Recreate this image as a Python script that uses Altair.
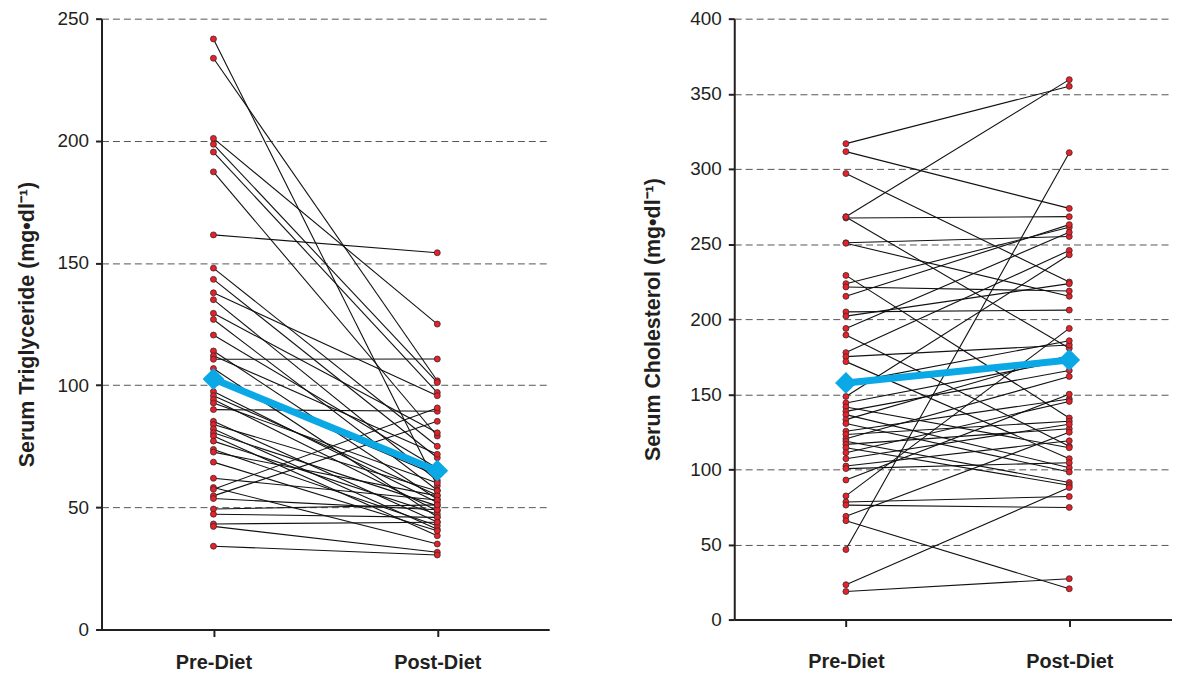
import altair as alt
import pandas as pd

phase_labels = ["Pre-Diet", "Post-Diet"]

# Serum triglyceride (mg/dl), paired pre/post values per subject
tg_pre = [241.7, 233.8, 201.0, 198.6, 195.4, 187.3, 161.5, 147.9, 143.3, 137.8,
          135.0, 129.4, 126.9, 120.5, 114.0, 112.0, 110.6, 106.8, 102.2, 97.4,
          95.7, 94.1, 92.7, 90.0, 85.2, 83.9, 82.1, 80.5, 79.2, 77.1,
          73.7, 72.6, 68.5, 61.9, 58.1, 57.4, 54.7, 53.6, 49.3, 47.2,
          43.2, 42.2, 34.1]
tg_post = [58.8, 101.8, 125.0, 101.1, 97.0, 79.2, 154.2, 75.0, 70.3, 95.7,
           61.0, 80.5, 57.0, 66.0, 53.3, 71.7, 110.7, 46.0, 63.0, 52.0,
           55.0, 48.6, 60.0, 89.3, 44.0, 56.7, 41.0, 50.6, 38.4, 47.2,
           42.5, 54.7, 40.4, 53.0, 35.0, 90.7, 85.2, 49.0, 51.0, 45.9,
           43.9, 31.6, 30.5]
tg_mean = [102.5, 65.0]
tg_ticks = [0, 50, 100, 150, 200, 250]

# Serum cholesterol (mg/dl), paired pre/post values per subject
ch_pre = [316.8, 311.5, 296.9, 268.2, 267.3, 268.0, 250.8, 250.5, 229.1, 223.6,
          221.4, 215.2, 204.8, 202.0, 193.8, 189.4, 177.7, 175.0, 171.7, 157.4,
          148.5, 144.2, 141.5, 138.6, 136.4, 133.1, 130.5, 125.4, 123.2, 120.3,
          118.7, 116.6, 114.4, 111.1, 107.1, 102.2, 100.5, 92.9, 82.3, 78.3,
          76.2, 68.7, 65.8, 46.6, 23.2, 18.7]
ch_post = [355.0, 273.7, 224.7, 359.4, 268.2, 180.6, 255.0, 215.2, 134.2, 261.1,
           218.7, 262.9, 206.0, 223.6, 257.8, 115.4, 245.7, 182.8, 107.1, 185.6,
           242.8, 172.8, 114.4, 165.8, 101.1, 176.0, 98.2, 146.8, 132.0, 161.8,
           91.2, 127.0, 89.4, 145.2, 130.0, 119.0, 104.4, 150.0, 193.8, 81.9,
           74.6, 124.7, 20.5, 310.8, 87.9, 27.2]
ch_mean = [157.5, 172.8]
ch_ticks = [0, 50, 100, 150, 200, 250, 300, 350, 400]

FONT = "Liberation Sans"
RED = "#E8202A"
BLUE = "#0BA8E6"


def to_long(pre, post):
    rows = []
    for i, (a, b) in enumerate(zip(pre, post)):
        rows.append({"id": i, "t": 1, "v": a})
        rows.append({"id": i, "t": 2, "v": b})
    return pd.DataFrame(rows)


def panel(pre, post, mean, ticks, title, w, h, label_pad, title_pad, xmax):
    df = to_long(pre, post)
    mdf = pd.DataFrame({"t": [1, 2], "v": mean})
    label_expr = f"datum.value == 1 ? '{phase_labels[0]}' : '{phase_labels[1]}'"
    x = alt.X(
        "t:Q",
        scale=alt.Scale(domain=[0.5, xmax], nice=False, zero=False),
        axis=alt.Axis(
            values=[1, 2], labelExpr=label_expr, title=None, grid=False,
            labelFont=FONT, labelFontSize=20, labelFontWeight="bold",
            labelColor="#231f20", labelPadding=label_pad,
            tickSize=7, tickWidth=2, tickColor="#231f20",
            domainWidth=2, domainColor="#231f20",
        ),
    )
    y = alt.Y(
        "v:Q",
        scale=alt.Scale(domain=[0, ticks[-1]], nice=False, zero=True),
        axis=alt.Axis(
            values=ticks, title=title, grid=True,
            gridDash=[7, 4], gridColor="#555555", gridWidth=1,
            labelFont=FONT, labelFontSize=19, labelColor="#231f20",
            labelPadding=7, tickSize=6, tickWidth=2, tickColor="#231f20",
            domainWidth=2, domainColor="#231f20",
            titleFont=FONT, titleFontSize=21.5, titleFontWeight="bold",
            titleColor="#231f20", titlePadding=title_pad,
        ),
    )
    base = alt.Chart(df)
    lines = base.mark_line(color="#111111", strokeWidth=1.1).encode(
        x=x, y=y, detail="id:N"
    )
    pts = base.mark_point(
        filled=True, shape="circle", size=36, fill=RED,
        stroke="#3a2a2a", strokeWidth=0.8, opacity=1
    ).encode(x="t:Q", y="v:Q")
    mline = alt.Chart(mdf).mark_line(color=BLUE, strokeWidth=7).encode(
        x="t:Q", y="v:Q"
    )
    mpts = alt.Chart(mdf).mark_point(
        shape="diamond", filled=True, size=480, color=BLUE, opacity=1
    ).encode(x="t:Q", y="v:Q")
    return alt.layer(lines, pts, mline, mpts).properties(width=w, height=h)


left = panel(tg_pre, tg_post, tg_mean, tg_ticks,
             "Serum Triglyceride (mg•dl⁻¹)", 450, 614, 16, 19, 2.5)
right = panel(ch_pre, ch_post, ch_mean, ch_ticks,
              "Serum Cholesterol (mg•dl⁻¹)", 440, 604, 25, 25, 2.46)

chart = (
    alt.hconcat(left, right, spacing=94)
    .properties(padding={"left": 8, "top": 0, "right": 0, "bottom": 0})
    .configure_view(stroke=None)
)

chart.save("out.html", embed_options={"renderer": "svg", "actions": False})
